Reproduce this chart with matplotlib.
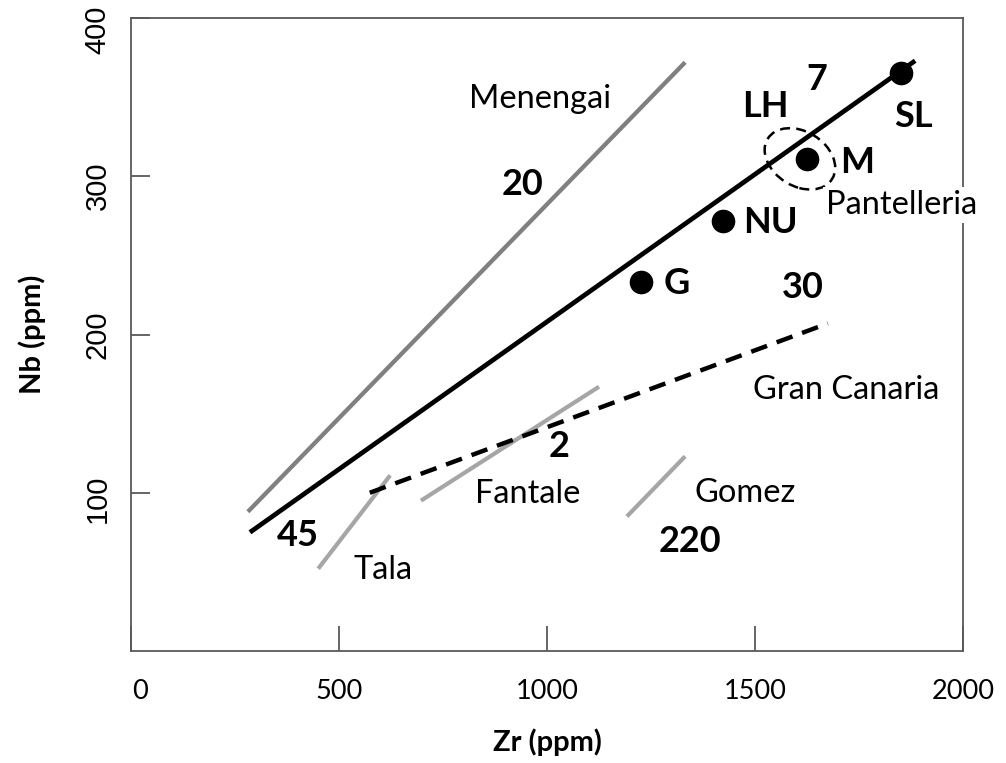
import matplotlib
matplotlib.use("Agg")
import matplotlib.pyplot as plt
from matplotlib.patches import Ellipse
from matplotlib.transforms import ScaledTranslation

# ---- data ----
menengai_x = [281, 1332]
menengai_y = [88, 372]
main_x = [286, 1885]
main_y = [75, 373]
grancanaria_x = [574, 1675]
grancanaria_y = [100, 207]
tala_x = [450, 623]
tala_y = [52, 111]
fantale_x = [697, 1125]
fantale_y = [95, 167]
gomez_x = [1192, 1332]
gomez_y = [85, 123]

pt_names = ["SL", "M", "NU", "G"]
pt_x = [1851, 1625, 1423, 1226]
pt_y = [365, 311, 272, 233]

ellipse_center = (1608, 311)
ellipse_size = (170, 37)

bold_labels = ["20", "7", "LH", "SL", "M", "NU", "G", "30", "2", "220", "45"]
bold_lx = [942, 1649, 1524, 1882, 1745, 1538, 1312, 1615, 1029, 1344, 401]
bold_ly = [295, 361, 344, 338, 309, 271, 232, 230, 129, 69, 73]

name_labels = ["Menengai", "Pantelleria", "Gran Canaria", "Fantale", "Gomez", "Tala"]
name_lx = [983, 1853, 1719, 954, 1476, 606]
name_ly = [349, 282, 165, 99, 100, 51]

xticks = [0, 500, 1000, 1500, 2000]
yticks = [100, 200, 300, 400]

FONT = "Lato"

fig = plt.figure(figsize=(10.06, 7.63), dpi=100)
ax = fig.add_axes([131/1006, 1-651/763, (963-131)/1006, (651-18)/763])
ax.set_xlim(0, 2000)
ax.set_ylim(0, 400)

ax.plot(menengai_x, menengai_y, color="#808080", lw=3.1, solid_capstyle="butt")
ax.plot(tala_x, tala_y, color="#a6a6a6", lw=3.0, solid_capstyle="butt")
ax.plot(fantale_x, fantale_y, color="#a6a6a6", lw=3.0, solid_capstyle="butt")
ax.plot(gomez_x, gomez_y, color="#a6a6a6", lw=3.0, solid_capstyle="butt")
ax.plot(grancanaria_x, grancanaria_y, color="black", lw=3.2, linestyle=(0, (3.8, 2.3)), dash_capstyle="butt")
ax.plot(main_x, main_y, color="black", lw=3.4, solid_capstyle="butt")
ax.plot(pt_x, pt_y, "o", color="black", markersize=16, linestyle="none")

ax.add_patch(Ellipse(ellipse_center, ellipse_size[0], ellipse_size[1], angle=-4,
                     fill=False, edgecolor="black", lw=1.8, linestyle=(0, (4, 2.5))))

for t, x, y in zip(bold_labels, bold_lx, bold_ly):
    ax.text(x, y, t, fontsize=26, fontweight="bold", family=FONT, ha="center", va="center")
for t, x, y in zip(name_labels, name_lx, name_ly):
    kw = {}
    if t == "Pantelleria":
        kw = dict(bbox=dict(facecolor="white", edgecolor="none", pad=2), clip_on=False, zorder=5)
    ax.text(x, y, t, fontsize=23.5, family=FONT, ha="center", va="center", **kw)

for s in ax.spines.values():
    s.set_color("#595959")
    s.set_linewidth(1.3)

ax.set_xticks(xticks)
ax.set_yticks(yticks)
ax.set_xticklabels([str(v) for v in xticks], family=FONT, fontsize=19.5)
ax.set_yticklabels([str(v) for v in yticks], family="Liberation Sans", fontsize=21,
                   rotation=90, va="center")
ax.tick_params(axis="x", direction="in", length=18, width=1.3, color="#595959", pad=20)
ax.tick_params(axis="y", direction="in", length=13.7, width=1.3, color="#595959", pad=14)

# small per-label offsets (in pixels) as seen in the reference
ylabel_shift_px = {100: -6, 200: 0, 300: -9, 400: -12}
for lab, v in zip(ax.get_yticklabels(), yticks):
    lab.set_transform(lab.get_transform() + ScaledTranslation(0, ylabel_shift_px[v] / 100, fig.dpi_scale_trans))
xlab0 = ax.get_xticklabels()[0]
xlab0.set_transform(xlab0.get_transform() + ScaledTranslation(9 / 100, 0, fig.dpi_scale_trans))

ax.set_xlabel("Zr (ppm)", family=FONT, fontsize=21, fontweight="bold", labelpad=18)
ax.set_ylabel("Nb (ppm)", family=FONT, fontsize=21, fontweight="bold", labelpad=27)

fig.savefig("out.png", dpi=100)
